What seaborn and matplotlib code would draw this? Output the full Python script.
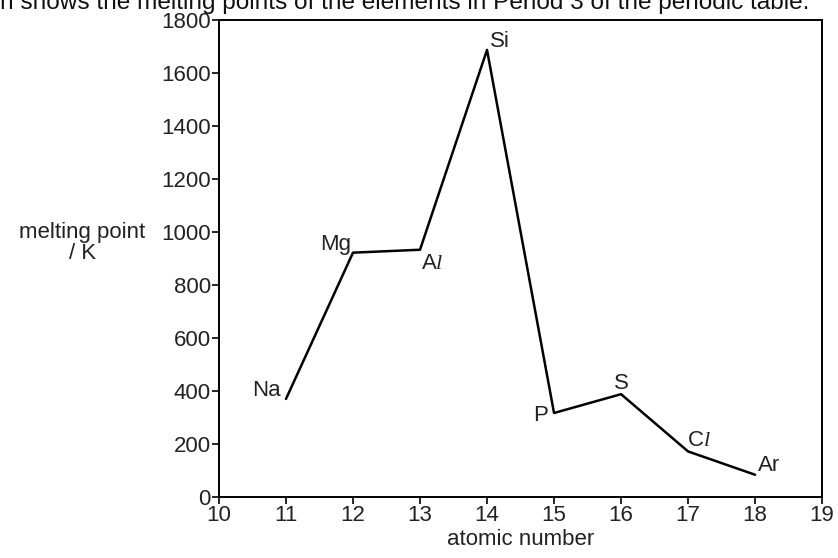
import matplotlib
matplotlib.use("Agg")
import matplotlib.pyplot as plt
import pandas as pd
import seaborn as sns

atomic_number = [11, 12, 13, 14, 15, 16, 17, 18]
melting_point = [370, 922, 933, 1687, 317, 388, 172, 84]
element_labels = ["Na", "Mg", "A$\\mathit{l}$", "Si", "P", "S", "C$\\mathit{l}$", "Ar"]
# label offsets in points (dx, dy) and alignment
label_offsets = [(-4, 6, "right"), (-1, 6, "right"), (1, -10, "left"), (2, 6, "left"),
                 (-4, -2, "right"), (0, 8, "center"), (-1, 8, "left"), (2, 7, "left")]

sns.set_style("ticks")
plt.rcParams["font.family"] = ["Liberation Sans", "DejaVu Sans"]
plt.rcParams["mathtext.fontset"] = "custom"
plt.rcParams["mathtext.rm"] = "Liberation Sans"
plt.rcParams["mathtext.it"] = "Liberation Serif:italic"

df = pd.DataFrame({"atomic number": atomic_number, "melting point": melting_point})

fig = plt.figure(figsize=(8.38, 5.58), dpi=100)
ax = fig.add_axes([0.2613, 0.1093, 0.7197, 0.8549])

sns.lineplot(data=df, x="atomic number", y="melting point", ax=ax,
             color="black", linewidth=1.8)

fs = 16
for x, y, lab, (dx, dy, ha) in zip(atomic_number, melting_point, element_labels, label_offsets):
    ax.annotate(lab, (x, y), xytext=(dx, dy), textcoords="offset points",
                ha=ha, va="center", fontsize=fs, color="#222222")

ax.set_xlim(10, 19)
ax.set_ylim(0, 1800)
ax.set_xticks(range(10, 20))
ax.set_yticks(range(0, 1801, 200))
ax.tick_params(axis="both", labelsize=fs, length=5, width=1.2, colors="black",
               labelcolor="#222222", pad=1)
for side in ["left", "right", "top", "bottom"]:
    ax.spines[side].set_visible(True)
    ax.spines[side].set_linewidth(1.4)
    ax.spines[side].set_color("black")

ax.set_xlabel("atomic number", fontsize=fs, color="#222222", labelpad=2)
ax.set_ylabel("")
fig.text(0.098, 0.565, "melting point\n/ K", ha="center", va="center",
         fontsize=fs, color="#222222", linespacing=1.0)

fig.text(0.0, 0.984, "n shows the melting points of the elements in Period 3 of the periodic table.",
         ha="left", va="baseline", fontsize=17.6, color="#111111")

fig.savefig("out.png", dpi=100)
